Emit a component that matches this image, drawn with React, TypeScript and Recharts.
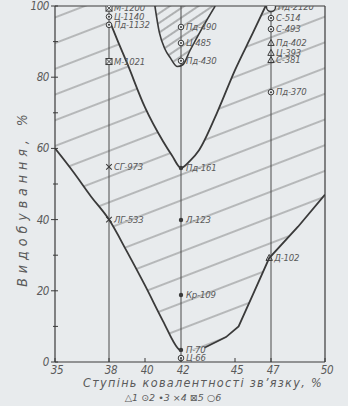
import React from 'react';
import { ComposedChart, Area, Line, Scatter, XAxis, YAxis, ReferenceLine } from 'recharts';

// axis ticks
const xTicks = [35, 38, 40, 42, 45, 47, 50];
const yTicks = [0, 10, 20, 30, 40, 50, 60, 70, 80, 90, 100];
const columnLines = [38, 42, 47];

// boundary curves
const leftCurveX = [35, 36, 37, 38, 39, 40, 41, 41.8, 42];
const leftCurveY = [60, 53.5, 46.5, 40, 31, 21.5, 11.5, 4, 3];
const vCurveX = [38.1, 38.5, 39, 40, 41, 41.5, 42, 42.5, 43, 44, 45, 46, 46.7];
const vCurveY = [95, 90, 84, 71.5, 62, 58, 54.5, 56.5, 59.5, 70, 82, 92.5, 100];
const uCurveX = [40.55, 40.8, 41.1, 41.4, 41.8, 42.1, 42.5, 43.2, 43.9];
const uCurveY = [100, 92.5, 88, 85.5, 83, 83.5, 87.5, 94, 100];
const bCurveX = [43.3, 44.5, 45.2, 46, 46.9, 48.5, 50];
const bCurveY = [4, 7, 10, 19, 29.2, 38, 47];

// hatched zone outline
const hatchX = [35, 36, 37, 38, 38.1, 39, 40, 41, 41.8, 42, 42.5, 43, 43.3, 44, 44.5, 45, 45.2, 46, 46.7, 46.9, 48.5, 50];
const hatchLow = [60, 53.5, 46.5, 40, 39.2, 31, 21.5, 11.5, 4, 3, 3.3, 3.7, 4, 5.8, 7, 9, 10, 19, 26.9, 29.2, 38, 47];
const hatchHigh = [100, 100, 100, 100, 95, 84, 71.5, 62, 56, 54.5, 56.5, 59.5, 62.5, 70, 76, 82, 84.3, 92.5, 100, 100, 100, 100];

// labelled points
const col38X = [38, 38, 38, 38, 38, 38];
const col38Names = ['М-1200', 'Ц-1140', 'Пд-1132', 'М-1021', 'СГ-973', 'ЛГ-533'];
const col38Values = [99.4, 97, 94.7, 84.4, 54.8, 40];
const col38Marks = [5, 2, 2, 5, 4, 4];
const col42X = [42, 42, 42, 42, 42, 42, 42, 42];
const col42Names = ['Пд-490', 'Ц-485', 'Пд-430', 'Пд-161', 'Л-123', 'Кр-109', 'П-70', 'Ц-66'];
const col42Values = [94.1, 89.6, 84.6, 54.5, 39.9, 18.8, 3.4, 1.1];
const col42Marks = [2, 2, 2, 3, 3, 3, 3, 2];
const col47X = [47, 47, 47, 47, 47, 47, 47, 46.9];
const col47Names = ['Пд-2120', 'С-514', 'С-493', 'Пд-402', 'Ц-393', 'С-381', 'Пд-370', 'Д-102'];
const col47Values = [99.7, 96.6, 93.5, 89.6, 86.8, 84.8, 75.8, 29.2];
const col47Marks = [6, 2, 2, 1, 1, 1, 2, 1];

const legendText = '△1 ⊙2 •3 ×4 ⊠5 ○6';

const toRows = (xs: number[], ys: number[]) => xs.map((x, i) => ({ x, y: ys[i] }));
const leftRows = toRows(leftCurveX, leftCurveY);
const vRows = toRows(vCurveX, vCurveY);
const uRows = toRows(uCurveX, uCurveY);
const bRows = toRows(bCurveX, bCurveY);
const hatchRows = hatchX.map((x, i) => ({ x, range: [hatchLow[i], hatchHigh[i]] }));
const uHatchRows = uCurveX.map((x, i) => ({ x, range: [uCurveY[i], 100] }));
const pointRows = [
  ...col38X.map((x, i) => ({ x, y: col38Values[i], name: col38Names[i], m: col38Marks[i] })),
  ...col42X.map((x, i) => ({ x, y: col42Values[i], name: col42Names[i], m: col42Marks[i] })),
  ...col47X.map((x, i) => ({ x, y: col47Values[i], name: col47Names[i], m: col47Marks[i] })),
];

const INK = '#3a3a3a';
const TEXT = '#5a5a5a';
const BG = '#e8ebed';
const FONT = "'DejaVu Sans Condensed', 'Liberation Sans Narrow', 'DejaVu Sans', sans-serif";

const Marker = (props: any) => {
  const { cx, cy, payload } = props;
  if (cx == null || cy == null) return null;
  const m = payload.m;
  let g: any = null;
  if (m === 1) {
    g = <path d={`M${cx},${cy - 3.6} L${cx + 3.2},${cy + 2.4} L${cx - 3.2},${cy + 2.4} Z`} fill="none" stroke={INK} strokeWidth={1} />;
  } else if (m === 2) {
    g = (
      <g>
        <circle cx={cx} cy={cy} r={2.8} fill={BG} stroke={INK} strokeWidth={1} />
        <circle cx={cx} cy={cy} r={1} fill={INK} />
      </g>
    );
  } else if (m === 3) {
    g = <circle cx={cx} cy={cy} r={2.2} fill={INK} />;
  } else if (m === 4) {
    g = <path d={`M${cx - 2.8},${cy - 2.8} L${cx + 2.8},${cy + 2.8} M${cx + 2.8},${cy - 2.8} L${cx - 2.8},${cy + 2.8}`} stroke={INK} strokeWidth={1.1} />;
  } else if (m === 5) {
    g = (
      <g>
        <rect x={cx - 3} y={cy - 3} width={6} height={6} fill={BG} stroke={INK} strokeWidth={1} />
        <path d={`M${cx - 3},${cy - 3} L${cx + 3},${cy + 3} M${cx + 3},${cy - 3} L${cx - 3},${cy + 3}`} stroke={INK} strokeWidth={0.9} />
      </g>
    );
  } else if (m === 6) {
    g = <circle cx={cx} cy={cy} r={4.5} fill={BG} stroke={INK} strokeWidth={1.4} />;
  }
  return (
    <g>
      {g}
      <text x={cx + (m === 6 ? 7 : 5)} y={cy + 3.3} fontSize={9.5} letterSpacing={-0.2} fontStyle="italic" fill={TEXT} fontFamily={FONT}>
        {payload.name}
      </text>
    </g>
  );
};

const YTick = (props: any) => {
  const { x, y, payload } = props;
  const v = payload.value;
  const major = v % 20 === 0;
  return (
    <g>
      <line x1={x - (major ? 4 : 2)} x2={x + 3} y1={y} y2={y} stroke={INK} strokeWidth={1} />
      {major && (
        <text x={x - 6} y={y + 4} textAnchor="end" fontSize={11.5} letterSpacing={-0.4} fontStyle="italic" fill={TEXT} fontFamily={FONT}>
          {v}
        </text>
      )}
    </g>
  );
};

const XTick = (props: any) => {
  const { x, y, payload } = props;
  const v = payload.value;
  return (
    <g>
      <line x1={x} x2={x} y1={y} y2={y - 4} stroke={INK} strokeWidth={1} />
      <text x={x + 2} y={y + 12} textAnchor="middle" fontSize={11.5} letterSpacing={-0.3} fontStyle="italic" fill={TEXT} fontFamily={FONT}>
        {v}
      </text>
    </g>
  );
};

export default function App() {
  return (
    <div style={{ position: 'absolute', left: 0, top: 0, width: 348, height: 406, background: BG, overflow: 'hidden' }}>
      <ComposedChart width={348} height={406} margin={{ top: 6, right: 23, bottom: 0, left: 0 }}>
        <defs>
          <pattern id="hatch" patternUnits="userSpaceOnUse" width="24" height="24" patternTransform="rotate(-21)">
            <line x1="-2" y1="12" x2="26" y2="12" stroke="#404040" strokeWidth="0.6" />
          </pattern>
          <pattern id="hatchDense" patternUnits="userSpaceOnUse" width="8" height="8" patternTransform="rotate(-34)">
            <line x1="-2" y1="4" x2="10" y2="4" stroke="#404040" strokeWidth="0.7" />
          </pattern>
        </defs>
        <XAxis
          type="number"
          dataKey="x"
          domain={[35, 50]}
          ticks={xTicks}
          allowDataOverflow
          height={44}
          tickSize={0}
          tickMargin={0}
          tickLine={false}
          tick={<XTick />}
          axisLine={{ stroke: INK, strokeWidth: 1.2 }}
          interval={0}
        />
        <YAxis
          type="number"
          domain={[0, 100]}
          ticks={yTicks}
          allowDataOverflow
          width={55}
          tickSize={0}
          tickMargin={0}
          tickLine={false}
          tick={<YTick />}
          axisLine={{ stroke: INK, strokeWidth: 1.2 }}
          interval={0}
        />
        <Area data={hatchRows} dataKey="range" type="linear" stroke="none" fill="url(#hatch)" fillOpacity={1} isAnimationActive={false} activeDot={false} />
        <Area data={uHatchRows} dataKey="range" type="linear" stroke="none" fill="url(#hatchDense)" fillOpacity={1} isAnimationActive={false} activeDot={false} />
        {columnLines.map((c) => (
          <ReferenceLine key={c} x={c} stroke="#4a4a4a" strokeWidth={1} />
        ))}
        <ReferenceLine x={50} stroke={INK} strokeWidth={1.2} />
        <ReferenceLine y={100} stroke={INK} strokeWidth={1.2} />
        <Line data={leftRows} dataKey="y" type="monotone" stroke={INK} strokeWidth={1.8} dot={false} activeDot={false} isAnimationActive={false} />
        <Line data={vRows} dataKey="y" type="monotone" stroke={INK} strokeWidth={1.8} dot={false} activeDot={false} isAnimationActive={false} />
        <Line data={uRows} dataKey="y" type="monotone" stroke={INK} strokeWidth={1.6} dot={false} activeDot={false} isAnimationActive={false} />
        <Line data={bRows} dataKey="y" type="linear" stroke={INK} strokeWidth={1.8} dot={false} activeDot={false} isAnimationActive={false} />
        <Scatter data={pointRows} dataKey="y" shape={(p: any) => <Marker {...p} />} isAnimationActive={false} />
      </ComposedChart>
      <div
        style={{
          position: 'absolute', left: 22, top: 198, transform: 'translate(-50%, -50%) rotate(-90deg)',
          whiteSpace: 'nowrap', fontFamily: FONT, fontStyle: 'italic', fontSize: 14, letterSpacing: 5, color: TEXT,
        }}
      >
        Видобування, %
      </div>
      <div
        style={{
          position: 'absolute', left: 203, top: 383, transform: 'translate(-50%, -50%)',
          whiteSpace: 'nowrap', fontFamily: FONT, fontStyle: 'italic', fontSize: 12.5, lineHeight: '14px', letterSpacing: 1.3, color: TEXT,
        }}
      >
        Ступінь ковалентності зв’язку, %
      </div>
      <div
        style={{
          position: 'absolute', left: 173, top: 397, transform: 'translate(-50%, -50%)',
          whiteSpace: 'nowrap', fontFamily: "'DejaVu Sans', sans-serif", fontStyle: 'italic', fontSize: 9.5, lineHeight: '11px', color: TEXT,
        }}
      >
        {legendText}
      </div>
    </div>
  );
}
